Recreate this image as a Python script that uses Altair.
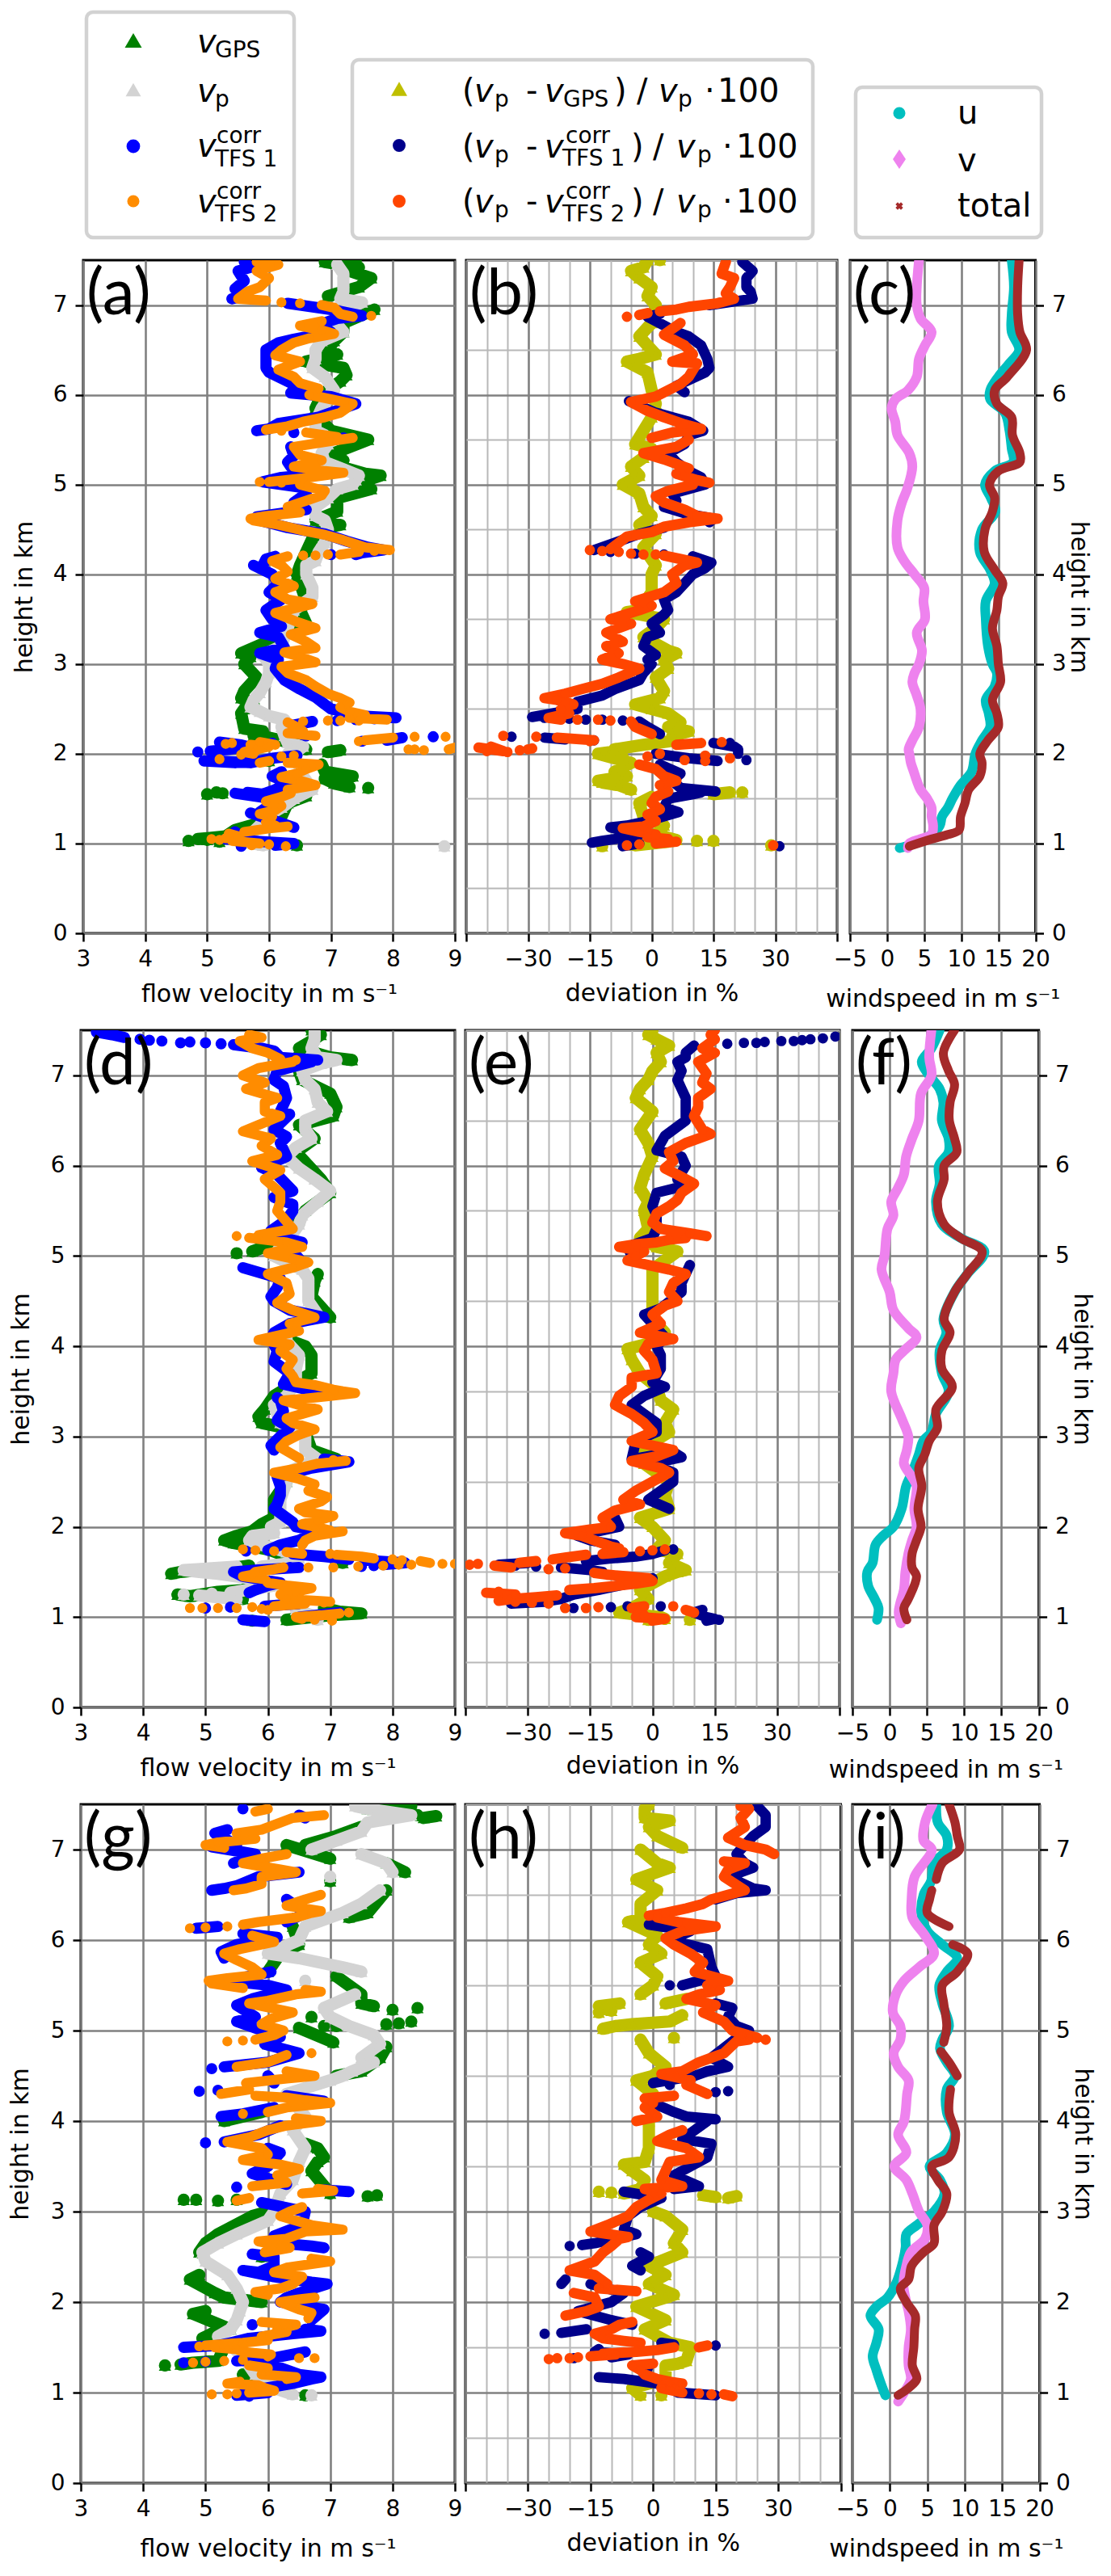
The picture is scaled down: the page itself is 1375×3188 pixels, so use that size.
import altair as alt
import pandas as pd

# ---------- panel (a) : (height km, m/s) ----------
A_GPS=[(.98,6.45),(1.02,5.2),(1.03,4.7),(1.04,5.0),(1.05,4.85),(1.08,5.3),(1.15,5.45),(1.2,5.7),(1.3,6.2),(1.45,6.3),(1.53,6.6),(1.55,5.0),(1.56,5.25),(1.57,5.15),(1.62,7.6),(1.63,7.3),(1.67,7.05),(1.72,6.9),(1.75,7.35),(1.8,6.9),(1.88,6.85),(1.92,6.0),(2.02,6.95),(2.04,7.15),(2.05,6.6),(2.1,6.5),(2.18,6.0),(2.2,5.75),(2.25,5.9),(2.28,5.6),(2.45,5.55),(2.5,5.6),(2.55,5.75),(2.62,5.55),(2.7,5.6),(2.85,5.8),(3.0,5.6),(3.08,5.7),(3.12,5.55),(3.3,6.15),(3.35,6.35),(3.45,6.6),(3.6,6.5),(3.7,6.6),(4.0,6.45),(4.1,6.5),(4.4,6.7),(4.52,6.9),(4.55,7.15),(4.6,6.75),(4.7,7.1),(4.85,7.1),(4.95,7.65),(5.02,7.45),(5.1,7.8),(5.12,7.55),(5.2,7.15),(5.27,7.2),(5.35,7.05),(5.5,7.6),(5.55,7.3),(5.6,7.0),(5.7,6.85),(5.85,6.75),(6.0,6.85),(6.15,7.15),(6.22,7.25),(6.3,7.2),(6.37,6.6),(6.45,7.1),(6.5,6.95),(6.6,7.05),(6.7,7.2),(6.8,7.2),(6.95,7.7),(7.1,6.95),(7.2,7.45),(7.3,7.65),(7.38,7.3),(7.42,7.45),(7.48,6.9),(7.5,7.4)]
A_P=[(.97,8.83),(.98,5.9),(1.03,5.5),(1.1,5.7),(1.2,5.85),(1.3,5.95),(1.4,6.2),(1.5,6.4),(1.6,6.7),(1.65,6.65),(1.75,6.55),(1.85,6.5),(1.95,6.4),(2.0,6.3),(2.03,6.45),(2.08,6.55),(2.12,6.3),(2.2,6.25),(2.3,6.2),(2.38,6.25),(2.42,6.0),(2.47,5.85),(2.52,5.7),(2.6,5.75),(2.68,5.85),(2.8,5.95),(2.9,6.0),(3.0,6.0),(3.1,5.9),(3.2,6.2),(3.4,6.3),(3.6,6.4),(3.75,6.7),(3.85,6.7),(4.0,6.6),(4.1,6.6),(4.15,6.75),(4.25,6.8),(4.35,6.9),(4.5,6.95),(4.6,6.9),(4.65,6.75),(4.75,6.75),(4.85,6.95),(4.95,7.1),(5.0,7.35),(5.05,7.4),(5.1,7.45),(5.17,7.2),(5.25,6.9),(5.35,6.85),(5.45,6.95),(5.55,6.9),(5.6,6.75),(5.7,6.75),(5.85,6.85),(5.95,6.95),(6.05,7.05),(6.1,7.0),(6.2,6.9),(6.3,6.7),(6.4,6.75),(6.5,6.75),(6.6,6.85),(6.7,7.2),(6.78,7.1),(6.9,7.1),(7.03,7.5),(7.07,7.15),(7.15,7.2),(7.25,7.2),(7.35,7.2),(7.45,7.1)]
A_T1=[(.97,5.55),(.98,6.1),(1.0,6.4),(1.02,5.9),(1.05,5.3),(1.1,5.5),(1.13,5.45),(1.18,6.4),(1.25,6.1),(1.34,5.7),(1.35,5.85),(1.42,6.0),(1.5,6.05),(1.56,5.45),(1.57,5.65),(1.55,5.9),(1.6,6.1),(1.68,6.3),(1.75,6.05),(1.8,6.2),(1.9,5.45),(1.92,4.95),(1.92,5.15),(1.9,5.7),(1.95,6.05),(1.98,6.45),(2.02,4.85),(2.03,5.05),(2.05,5.35),(2.08,5.65),(2.1,5.55),(2.13,5.2),(2.12,6.05),(2.14,7.5),(2.15,7.9),(2.18,8.15),(2.19,8.65),(2.2,6.6),(2.25,6.4),(2.32,6.4),(2.36,6.7),(2.37,7.1),(2.38,7.4),(2.39,7.7),(2.4,8.05),(2.42,7.5),(2.5,7.0),(2.55,6.9),(2.63,6.75),(2.72,6.5),(2.82,6.25),(2.95,6.1),(3.05,6.15),(3.12,5.85),(3.18,6.25),(3.3,6.15),(3.35,5.85),(3.42,6.2),(3.5,6.05),(3.6,5.95),(3.72,6.2),(3.8,6.0),(3.9,6.15),(4.0,6.05),(4.1,5.75),(4.1,5.9),(4.17,5.95),(4.2,6.1),(4.22,7.0),(4.22,7.4),(4.24,7.5),(4.27,7.85),(4.3,7.6),(4.37,7.25),(4.45,6.9),(4.52,6.3),(4.6,5.85),(4.64,5.8),(4.67,6.1),(4.72,6.6),(4.8,6.4),(4.9,6.6),(4.97,6.5),(5.03,5.9),(5.08,6.2),(5.12,6.8),(5.2,6.35),(5.25,6.3),(5.32,6.4),(5.42,6.35),(5.52,7.2),(5.58,6.4),(5.6,5.8),(5.62,6.0),(5.68,6.15),(5.75,6.8),(5.85,7.2),(5.9,7.4),(5.98,7.0),(6.02,6.35),(6.1,6.45),(6.15,6.3),(6.25,6.0),(6.3,5.95),(6.45,5.95),(6.5,5.95),(6.58,6.15),(6.62,6.4),(6.7,7.0),(6.78,6.8),(6.85,7.1),(6.88,7.5),(6.95,7.0),(7.02,6.3),(7.07,5.4),(7.1,5.6),(7.18,5.45),(7.27,5.6),(7.38,5.5),(7.42,5.7),(7.48,5.6)]
A_T2=[(.97,6.27),(.98,5.72),(.99,6.0),(1.0,5.85),(1.03,5.4),(1.04,5.2),(1.05,5.07),(1.06,5.3),(1.08,5.5),(1.11,5.35),(1.13,5.6),(1.15,5.8),(1.17,6.0),(1.19,6.3),(1.2,6.1),(1.24,5.95),(1.3,6.05),(1.33,5.85),(1.37,6.1),(1.42,6.2),(1.47,5.95),(1.52,6.2),(1.56,6.35),(1.6,6.3),(1.65,6.75),(1.7,6.5),(1.74,6.2),(1.78,6.45),(1.83,6.6),(1.88,6.8),(1.9,6.3),(1.9,5.85),(1.92,6.0),(1.94,5.2),(1.97,6.2),(1.98,6.4),(1.99,5.55),(2.0,5.75),(2.02,5.6),(2.08,6.0),(2.1,5.7),(2.11,5.3),(2.12,5.4),(2.13,5.85),(2.1,6.1),(2.05,8.35),(2.04,8.5),(2.05,8.25),(2.05,8.9),(2.07,9.0),(2.14,7.45),(2.15,7.55),(2.18,8.0),(2.19,8.35),(2.19,8.85),(2.2,6.75),(2.23,6.3),(2.25,6.55),(2.28,6.5),(2.35,6.3),(2.36,6.55),(2.37,6.95),(2.37,7.15),(2.37,7.45),(2.38,7.9),(2.4,7.3),(2.43,7.55),(2.47,7.3),(2.52,7.15),(2.57,7.3),(2.62,7.15),(2.67,6.95),(2.75,6.75),(2.82,6.6),(2.9,6.3),(2.97,6.2),(3.02,6.75),(3.08,6.5),(3.13,6.25),(3.18,6.75),(3.25,6.6),(3.33,6.35),(3.4,6.75),(3.47,6.45),(3.57,6.1),(3.67,6.7),(3.72,6.3),(3.8,6.1),(3.87,6.4),(3.95,6.1),(4.03,6.3),(4.1,6.2),(4.15,6.05),(4.2,6.3),(4.21,6.55),(4.21,6.75),(4.22,6.95),(4.22,7.15),(4.25,7.45),(4.26,7.7),(4.27,7.95),(4.3,7.55),(4.38,7.2),(4.44,6.9),(4.48,6.6),(4.52,6.35),(4.56,6.1),(4.6,5.75),(4.62,5.7),(4.65,5.95),(4.69,6.5),(4.75,6.3),(4.82,6.6),(4.88,6.85),(4.93,6.9),(5.0,6.5),(5.02,6.2),(5.03,5.85),(5.03,6.0),(5.07,6.55),(5.13,7.2),(5.15,6.9),(5.2,6.4),(5.27,6.85),(5.33,6.5),(5.42,6.4),(5.48,6.95),(5.52,7.35),(5.53,7.1),(5.58,6.6),(5.6,6.2),(5.61,5.95),(5.65,6.3),(5.7,6.55),(5.75,6.9),(5.8,7.15),(5.85,7.25),(5.9,7.35),(5.95,7.0),(6.0,6.65),(6.07,6.8),(6.13,6.5),(6.2,6.4),(6.28,6.15),(6.37,6.5),(6.44,6.1),(6.5,6.2),(6.58,6.4),(6.63,6.65),(6.68,7.05),(6.72,6.85),(6.77,6.5),(6.82,6.85),(6.88,7.65),(6.87,7.35),(6.9,7.15),(6.97,7.05),(7.0,6.85),(7.02,6.5),(7.03,6.2),(7.05,5.95),(7.07,5.5),(7.15,5.65),(7.2,5.85),(7.3,6.0),(7.38,5.8),(7.45,6.15),(7.48,5.8)]

# ---------- panel (b) : (height km, %) ----------
B_GPS=[(.98,29),(.97,-12),(.98,-4),(1.02,4),(1.03,15),(1.03,11),(1.04,6),(1.1,1),(1.2,3),(1.3,-2),(1.45,-3),(1.52,0),(1.55,15),(1.57,19),(1.57,22),(1.6,-5),(1.65,-8),(1.68,-12),(1.7,-13),(1.75,-6),(1.8,-9),(1.9,-5),(2.0,-13),(2.02,-10),(2.03,-7),(2.05,-9),(2.1,-2),(2.15,6),(2.2,5),(2.25,9),(2.3,4),(2.35,7),(2.45,4),(2.5,0),(2.55,-4),(2.62,2),(2.7,3),(2.85,1),(2.95,4),(3.05,3),(3.12,6),(3.15,4),(3.3,-2),(3.4,1),(3.5,3),(3.58,-6),(3.6,-3),(3.8,0),(4.0,0),(4.1,1),(4.3,-2),(4.45,1),(4.55,-3),(4.65,0),(4.75,-2),(4.9,-3),(5.0,-7),(5.05,-5),(5.1,-3),(5.2,-5),(5.3,-2),(5.4,0),(5.45,-4),(5.6,-2),(5.75,0),(5.9,1),(6.05,0),(6.25,-1),(6.37,-6),(6.4,-3),(6.45,1),(6.55,-1),(6.65,-3),(6.8,0),(7.0,1),(7.1,-1),(7.2,0),(7.3,-3),(7.38,-5),(7.42,-2),(7.5,-1),(7.5,2)]
B_T1=[(.97,31),(.97,-7),(1.0,-3),(1.01,-14.5),(1.03,-12),(1.05,-9),(1.1,-3),(1.18,-10),(1.2,-6),(1.25,-1),(1.35,6.5),(1.4,3),(1.5,4),(1.55,10),(1.57,12),(1.58,15.5),(1.62,7),(1.7,5),(1.78,7),(1.88,2),(1.93,23),(1.92,16),(1.95,9),(2.0,1),(2.0,21),(2.05,21),(2.08,20),(2.12,15),(2.12,19),(2.15,-14),(2.16,-21),(2.18,-26),(2.19,-34),(2.22,2),(2.3,-1),(2.36,-3),(2.37,-7),(2.38,-12),(2.38,-16),(2.39,-20),(2.4,-26),(2.41,-29),(2.45,-24),(2.5,-18),(2.58,-18),(2.65,-12),(2.72,-9),(2.82,-3),(2.9,-2),(3.0,0),(3.05,-1),(3.1,1),(3.2,-2),(3.3,-1),(3.35,2),(3.45,0),(3.55,3),(3.6,4),(3.72,3),(3.8,6),(3.9,8),(4.0,10),(4.07,13),(4.13,14.5),(4.2,10),(4.22,3),(4.23,-4),(4.25,-10),(4.27,-14),(4.35,-9),(4.45,-3),(4.52,3),(4.58,14),(4.62,15),(4.68,8),(4.75,3),(4.82,6),(4.9,5),(5.0,13),(5.08,12),(5.15,9),(5.25,6),(5.35,4),(5.45,8),(5.55,9),(5.6,12.5),(5.7,9),(5.8,1),(5.93,-5.5),(6.03,8),(6.1,6),(6.25,13),(6.3,14),(6.4,13.5),(6.55,12),(6.65,9),(6.7,6),(6.87,-1),(6.9,2),(7.0,14),(7.07,24.5),(7.15,24),(7.2,23),(7.3,23),(7.38,24.5),(7.48,22)]
B_T2=[(.98,29.5),(.98,-6),(.99,-3),(1.0,1),(1.02,6),(1.03,3),(1.05,4),(1.07,-1),(1.1,1),(1.13,-3),(1.17,-7),(1.19,-2),(1.25,1),(1.32,-1),(1.38,2),(1.45,0),(1.52,1),(1.58,4),(1.65,2),(1.7,6),(1.75,3),(1.83,1),(1.88,-3),(1.92,13),(1.93,8),(1.95,19),(1.97,-1),(1.98,13),(2.0,2),(2.02,-35),(2.03,-40),(2.04,-32),(2.05,-30),(2.06,-29),(2.07,-42),(2.03,-36),(2.08,-39),(2.1,6),(2.12,12),(2.13,17),(2.14,-15),(2.15,-14),(2.18,-23),(2.19,-28),(2.2,-36),(2.22,0),(2.26,-2),(2.3,-4),(2.36,-5),(2.37,-10),(2.38,-13),(2.38,-18),(2.38,-22),(2.4,-25),(2.45,-20),(2.5,-22),(2.55,-19),(2.6,-23),(2.62,-26),(2.67,-21),(2.72,-17),(2.78,-12),(2.85,-8),(2.95,-3),(3.0,-7),(3.05,-12),(3.12,-8),(3.2,-11),(3.25,-7),(3.35,-11),(3.45,-5),(3.5,-10),(3.6,-3),(3.65,0),(3.7,-4),(3.8,3),(3.9,6),(4.0,5),(4.1,8),(4.13,11),(4.17,7),(4.21,3),(4.22,1),(4.22,-2),(4.23,-5),(4.25,-8),(4.26,-12),(4.27,-15),(4.28,-10),(4.35,-8),(4.42,-6),(4.47,0),(4.53,3),(4.58,9),(4.62,16),(4.65,11),(4.72,8),(4.8,3),(4.87,1),(4.93,4),(5.0,10),(5.02,14),(5.05,11),(5.12,6),(5.18,9),(5.28,3),(5.35,-2),(5.42,6),(5.5,9),(5.52,0),(5.58,5),(5.62,12),(5.67,8),(5.75,3),(5.82,-1),(5.92,-5),(5.98,1),(6.05,4),(6.12,7),(6.2,9),(6.35,11),(6.37,5),(6.45,10),(6.55,8),(6.67,3),(6.8,7),(6.87,-6),(6.89,-3),(6.91,-1),(6.93,2),(6.95,6),(6.98,9),(7.02,16),(7.07,20),(7.13,18),(7.2,19),(7.3,20),(7.35,17),(7.48,18)]

# ---------- panel (c) : (height km, m/s) ----------
C_U=[(.95,1.7),(1.0,3.7),(1.1,6),(1.2,7.1),(1.3,7.4),(1.4,8.2),(1.5,8.8),(1.65,9.9),(1.8,11.4),(2.0,11.9),(2.15,12.8),(2.3,13.9),(2.45,13.7),(2.6,13.3),(2.75,14.5),(2.9,14.8),(3.0,14.2),(3.2,13.6),(3.5,13.3),(3.7,13.3),(3.9,14.5),(4.05,13.9),(4.25,12.5),(4.5,12.8),(4.7,14.6),(4.85,14),(5.0,13.2),(5.15,14.5),(5.25,17),(5.4,16.8),(5.6,16.5),(5.8,15.9),(5.95,13.9),(6.05,13.9),(6.2,15),(6.35,16.5),(6.5,17.8),(6.7,16.8),(6.9,16.8),(7.2,17.1),(7.5,16.8)]
C_V=[(.95,2.8),(1.0,3),(1.05,4.5),(1.1,6),(1.2,6.2),(1.3,6),(1.4,6),(1.5,5.4),(1.6,4.5),(1.7,4),(1.8,3.6),(1.9,3.2),(2.0,3),(2.05,2.9),(2.15,3.4),(2.3,4.3),(2.5,4.5),(2.65,4),(2.8,3.4),(2.9,3.7),(3.0,4.3),(3.15,4.7),(3.35,4),(3.5,5.1),(3.7,4.9),(3.85,5),(4.0,3.7),(4.15,2.3),(4.3,1.4),(4.6,1.4),(4.8,2),(4.95,2.7),(5.2,3.4),(5.35,3),(5.55,1.4),(5.7,1.1),(5.85,.6),(5.95,1.1),(6.05,2.8),(6.2,4),(6.4,4.3),(6.55,5.1),(6.7,6),(6.85,4.5),(7.0,4),(7.2,4),(7.5,4.3)]
C_TOT=[(.97,3),(1.05,6),(1.1,8.2),(1.15,9.7),(1.3,9.9),(1.45,10.5),(1.6,11),(1.75,12.5),(1.9,12.8),(2.0,12.5),(2.15,13.6),(2.3,15),(2.45,14.8),(2.6,14.2),(2.8,15.3),(3.0,15),(3.2,14.8),(3.4,14.2),(3.6,14.8),(3.75,15),(3.9,15.6),(4.05,14.5),(4.25,13.1),(4.5,13.2),(4.7,14.2),(4.85,14.5),(5.0,13.8),(5.15,15),(5.25,17.9),(5.35,17.9),(5.55,16.9),(5.75,16.8),(5.9,14.8),(6.05,14.5),(6.2,16.2),(6.5,18.8),(6.7,17.9),(6.9,17.6),(7.2,17.6),(7.5,17.8)]

# ---------- panel (d) ----------
D_GPS=[(.96,5.75),(.97,6.3),(1.02,7.0),(1.04,7.5),(1.06,7.15),(1.1,6.9),(1.2,5.6),(1.25,4.55),(1.23,4.75),(1.28,5.2),(1.3,5.6),(1.4,5.9),(1.48,4.45),(1.5,4.6),(1.52,4.9),(1.54,5.4),(1.57,5.7),(1.6,7.2),(1.65,6.4),(1.75,6.0),(1.82,5.45),(1.85,5.3),(1.9,5.5),(1.95,5.75),(2.03,5.9),(2.1,6.1),(2.3,6.1),(2.5,6.3),(2.75,7.1),(2.85,6.7),(3.05,6.6),(3.15,5.9),(3.22,5.85),(3.3,5.95),(3.45,6.1),(3.7,6.7),(3.9,6.7),(4.0,6.6),(4.1,6.2),(4.32,7.0),(4.55,6.7),(4.72,6.75),(4.8,6.8),(5.03,5.5),(5.05,5.75),(5.1,5.95),(5.4,6.5),(5.5,6.6),(5.7,7.0),(5.85,6.85),(6.0,6.65),(6.15,6.45),(6.3,6.75),(6.45,6.5),(6.55,7.05),(6.65,7.1),(6.8,7.0),(6.95,6.55),(7.05,6.5),(7.1,6.5),(7.17,7.35),(7.2,7.0),(7.3,6.5),(7.38,6.7),(7.45,6.85),(7.5,6.7)]
D_P=[(.97,6.8),(1.02,6.7),(1.08,6.45),(1.12,6.45),(1.2,5.5),(1.22,5.2),(1.24,4.9),(1.25,4.65),(1.26,5.1),(1.27,5.4),(1.35,6.1),(1.4,6.0),(1.45,5.5),(1.48,5.2),(1.5,4.9),(1.52,4.65),(1.54,5.1),(1.56,5.5),(1.56,5.9),(1.6,6.4),(1.65,6.5),(1.72,6.3),(1.8,5.9),(1.85,5.7),(1.9,5.75),(1.93,6.1),(2.0,6.05),(2.05,6.2),(2.15,6.2),(2.3,6.2),(2.5,6.3),(2.6,6.3),(2.75,6.8),(2.85,6.6),(3.0,6.6),(3.15,6.2),(3.35,6.1),(3.45,6.3),(3.6,6.45),(3.75,6.45),(3.9,6.5),(4.05,6.3),(4.2,6.3),(4.35,6.8),(4.5,6.65),(4.6,6.65),(4.75,6.65),(4.85,6.55),(5.0,6.1),(5.1,6.2),(5.2,6.35),(5.35,6.5),(5.45,6.55),(5.6,6.8),(5.72,7.0),(5.85,6.75),(5.97,6.5),(6.1,6.3),(6.2,6.45),(6.3,6.7),(6.4,6.6),(6.5,6.6),(6.6,6.95),(6.7,6.8),(6.85,6.75),(6.95,6.6),(7.05,6.55),(7.13,6.85),(7.17,7.1),(7.2,6.8),(7.3,6.7),(7.4,6.75),(7.48,6.75)]
D_T1=[(.96,5.8),(.95,5.95),(.97,5.6),(1.0,6.5),(1.05,7.15),(1.1,5.0),(1.11,5.4),(1.12,5.95),(1.15,6.5),(1.2,6.5),(1.27,5.7),(1.3,5.8),(1.35,6.0),(1.38,6.2),(1.45,5.6),(1.5,5.45),(1.52,5.8),(1.55,6.5),(1.55,6.35),(1.56,7.5),(1.57,7.7),(1.58,7.85),(1.6,8.2),(1.63,7.55),(1.64,7.3),(1.67,6.9),(1.7,6.4),(1.73,5.65),(1.74,6.0),(1.8,6.2),(1.85,6.5),(1.9,6.65),(1.95,6.85),(2.0,6.45),(2.05,6.4),(2.2,6.1),(2.25,6.15),(2.35,6.2),(2.45,6.2),(2.55,6.15),(2.65,6.7),(2.72,7.3),(2.75,6.9),(2.85,6.1),(2.9,6.05),(3.0,6.2),(3.1,6.35),(3.18,6.15),(3.28,6.25),(3.4,6.2),(3.43,6.15),(3.48,6.9),(3.58,6.25),(3.7,6.35),(3.83,6.1),(3.95,6.15),(4.08,6.05),(4.15,6.1),(4.25,6.35),(4.32,6.9),(4.4,6.35),(4.5,6.1),(4.55,6.05),(4.65,6.15),(4.75,6.2),(4.87,5.6),(4.92,6.55),(4.97,6.5),(5.05,6.4),(5.15,6.55),(5.2,6.25),(5.28,6.05),(5.4,6.3),(5.5,6.4),(5.57,6.4),(5.65,6.1),(5.72,6.4),(5.9,6.15),(5.98,5.9),(6.1,6.3),(6.25,6.2),(6.32,6.3),(6.4,6.1),(6.57,6.35),(6.6,6.2),(6.75,6.3),(6.88,6.25),(6.95,6.1),(7.05,6.15),(7.15,6.7),(7.17,6.8),(7.2,6.2),(7.27,6.1),(7.3,5.9),(7.34,5.45),(7.35,5.25),(7.36,5.0),(7.37,4.75),(7.36,4.6),(7.38,4.3),(7.39,4.1),(7.4,3.95),(7.42,3.7),(7.45,3.5),(7.48,3.25)]
D_T2=[(.96,7.03),(.97,6.75),(.98,6.55),(1.0,6.45),(1.02,6.85),(1.04,7.15),(1.05,7.3),(1.08,6.0),(1.09,5.9),(1.1,4.75),(1.1,4.95),(1.1,5.2),(1.1,5.5),(1.11,5.75),(1.12,6.1),(1.15,6.6),(1.16,6.9),(1.17,7.0),(1.2,6.3),(1.25,6.2),(1.28,6.45),(1.32,6.7),(1.35,6.3),(1.38,6.0),(1.42,5.95),(1.45,5.6),(1.47,5.75),(1.5,5.8),(1.53,6.1),(1.55,6.25),(1.55,6.65),(1.55,7.05),(1.56,7.45),(1.57,7.85),(1.58,8.1),(1.58,8.3),(1.59,8.8),(1.59,9.0),(1.6,8.6),(1.62,8.45),(1.63,8.15),(1.64,8.0),(1.65,7.7),(1.67,7.5),(1.69,7.1),(1.7,7.0),(1.7,6.55),(1.72,6.3),(1.73,6.1),(1.74,5.8),(1.75,5.6),(1.8,6.55),(1.85,6.6),(1.9,6.75),(1.95,7.2),(1.96,7.0),(2.0,6.75),(2.03,6.55),(2.07,6.8),(2.12,7.05),(2.16,6.6),(2.2,6.5),(2.28,6.85),(2.33,6.95),(2.4,6.65),(2.47,6.75),(2.53,6.5),(2.6,6.1),(2.65,6.5),(2.7,6.8),(2.73,7.25),(2.74,7.05),(2.76,6.5),(2.8,6.4),(2.88,6.2),(2.95,6.3),(3.02,6.5),(3.08,6.75),(3.15,6.4),(3.2,6.3),(3.3,6.8),(3.35,6.5),(3.4,6.25),(3.42,6.6),(3.45,7.0),(3.48,7.4),(3.5,7.2),(3.52,7.05),(3.57,6.75),(3.6,6.45),(3.67,6.4),(3.75,6.3),(3.85,6.4),(3.95,6.2),(4.02,6.35),(4.07,5.85),(4.1,6.05),(4.17,6.5),(4.25,6.35),(4.32,6.75),(4.4,6.4),(4.48,6.15),(4.58,6.35),(4.7,6.3),(4.8,6.0),(4.87,6.4),(4.93,6.65),(4.97,6.4),(5.03,6.0),(5.1,6.55),(5.15,6.3),(5.2,5.7),(5.22,5.5),(5.23,5.85),(5.3,6.4),(5.38,6.3),(5.5,6.15),(5.6,6.2),(5.7,6.2),(5.85,5.95),(5.95,6.2),(6.05,5.75),(6.12,6.15),(6.22,5.9),(6.3,6.05),(6.38,5.6),(6.45,5.85),(6.55,6.2),(6.6,5.95),(6.7,5.95),(6.75,6.15),(6.85,5.65),(6.92,5.95),(7.0,5.6),(7.08,5.85),(7.15,6.4),(7.17,6.45),(7.18,6.2),(7.25,6.0),(7.3,5.75),(7.38,5.55),(7.42,5.9),(7.45,5.7)]

# ---------- panel (e) ----------
E_GPS=[(.97,-1),(.97,9),(.98,3),(1.0,2),(1.05,-8),(1.1,-5),(1.2,-1),(1.3,-3),(1.45,3),(1.5,6),(1.52,8),(1.6,4),(1.7,6),(1.75,1),(1.85,3),(2.0,0),(2.1,-3),(2.2,4),(2.35,3),(2.5,4),(2.7,-2),(2.85,-3),(3.05,4),(3.15,3),(3.3,5),(3.4,2),(3.55,1),(3.7,-3),(3.85,-5),(3.97,-6),(4.05,1),(4.15,3),(4.3,0),(4.55,0),(4.75,0),(4.85,0),(5.05,6),(5.1,1),(5.2,-3),(5.3,-1),(5.5,-2),(5.6,-1),(5.75,-3),(5.9,-2),(6.1,0),(6.25,-1),(6.4,-3),(6.6,0),(6.75,-4),(6.85,-3),(6.95,-1),(7.05,0),(7.15,2),(7.25,1),(7.33,4),(7.4,1),(7.45,-1),(7.5,0)]
E_T1=[(.97,16),(.96,13),(.98,15),(1.0,13),(1.05,10),(1.08,12),(1.1,-19),(1.11,-10),(1.12,2),(1.12,-6),(1.15,-34),(1.17,-26),(1.2,-22),(1.25,-19),(1.3,-13),(1.35,-8),(1.43,0),(1.5,-12),(1.52,-15),(1.55,-22),(1.56,-28),(1.57,-33),(1.58,-37),(1.6,-30),(1.62,-16),(1.65,-10),(1.67,-4),(1.7,0),(1.74,3),(1.75,5),(1.8,-9),(1.85,-15),(1.9,-18),(2.0,-8),(2.1,-9),(2.2,4),(2.3,-1),(2.4,2),(2.5,5),(2.6,5),(2.7,0),(2.77,7),(2.83,5),(2.75,-5),(2.95,-4),(3.05,1),(3.15,1),(3.25,-2),(3.35,-5),(3.45,-2),(3.55,3),(3.6,0),(3.75,2),(3.9,2),(4.0,1),(4.1,3),(4.2,1),(4.35,-2),(4.42,2),(4.6,7),(4.7,7),(4.8,8),(4.9,9),(5.0,-5),(5.1,-6),(5.2,0),(5.3,1),(5.45,1),(5.55,0),(5.7,1),(5.78,8),(5.85,6),(6.0,8),(6.1,7),(6.17,1),(6.25,2),(6.33,3),(6.5,8),(6.6,8),(6.75,8),(6.85,7),(6.95,6),(7.05,7),(7.15,6),(7.2,8),(7.25,8),(7.33,10),(7.35,18),(7.36,22),(7.36,25),(7.37,27),(7.38,31),(7.38,34),(7.39,36),(7.4,38),(7.41,41),(7.43,44)]
E_T2=[(.96,0),(.98,3),(1.0,-4),(1.02,-2),(1.05,10),(1.08,8),(1.1,-21),(1.11,-13),(1.1,-16),(1.1,-5),(1.12,-2),(1.12,5),(1.15,-25),(1.16,-29),(1.17,-33),(1.18,-37),(1.2,-34),(1.22,-28),(1.24,-23),(1.25,-33),(1.27,-40),(1.28,-37),(1.3,-20),(1.32,-14),(1.35,-8),(1.37,-4),(1.4,0),(1.43,-1),(1.45,-6),(1.47,-11),(1.49,-14),(1.53,-25),(1.54,-21),(1.55,-34),(1.57,-38),(1.58,-44),(1.59,-42),(1.6,-32),(1.62,-28),(1.64,-24),(1.66,-21),(1.69,-16),(1.7,-12),(1.72,-7),(1.73,-3),(1.74,0),(1.75,3),(1.76,-8),(1.78,-10),(1.85,-14),(1.9,-17),(1.93,-21),(1.97,-15),(2.0,-10),(2.1,-12),(2.18,-9),(2.25,-3),(2.3,-7),(2.4,-4),(2.5,0),(2.6,4),(2.65,2),(2.73,-5),(2.78,1),(2.85,5),(2.95,-5),(3.05,0),(3.15,-2),(3.25,-5),(3.35,-9),(3.45,-8),(3.55,-5),(3.65,-5),(3.7,1),(3.85,0),(3.95,-2),(4.03,-1),(4.08,5),(4.15,-3),(4.25,2),(4.35,0),(4.45,3),(4.5,6),(4.6,4),(4.7,5),(4.8,8),(4.85,4),(4.95,-6),(5.0,-4),(5.05,-2),(5.1,-8),(5.13,-4),(5.15,1),(5.18,4),(5.2,8),(5.22,13),(5.25,9),(5.3,2),(5.37,0),(5.47,1),(5.55,4),(5.62,6),(5.7,7),(5.8,10),(5.9,6),(5.97,3),(6.05,5),(6.15,4),(6.25,8),(6.35,14),(6.4,12),(6.55,10),(6.65,11),(6.75,11),(6.85,14),(6.92,12),(7.02,13),(7.15,11),(7.25,15),(7.3,12),(7.4,15),(7.45,14),(7.5,15)]

# ---------- panel (f) ----------
F_U=[(.97,-1.7),(1.1,-1.5),(1.2,-2),(1.35,-2.9),(1.5,-3),(1.6,-2.3),(1.8,-1.9),(1.9,-.9),(2.0,.5),(2.2,1.6),(2.45,2.2),(2.6,3),(2.8,3.9),(2.95,4.5),(3.05,5.6),(3.25,6.2),(3.5,7.9),(3.7,7),(3.95,6.7),(4.15,7.6),(4.3,7.2),(4.6,8.7),(4.8,10.4),(5.05,12.7),(5.2,9.5),(5.35,7),(5.6,6.2),(5.8,6.7),(6.0,6.6),(6.15,7.9),(6.3,7.9),(6.5,7),(6.7,7.2),(6.85,6.7),(7.0,5.3),(7.15,4.3),(7.3,5.6),(7.5,6.7)]
F_V=[(.93,1.5),(1.05,1.2),(1.15,1.4),(1.3,1.9),(1.5,2.1),(1.7,2.5),(1.85,3),(2.0,3.6),(2.2,3.3),(2.45,3.6),(2.55,3),(2.7,1.9),(2.85,2.3),(3.0,2.5),(3.2,1.6),(3.5,.2),(3.7,.5),(3.85,.8),(3.95,1.9),(4.1,3.6),(4.2,2.5),(4.4,.5),(4.6,0),(4.85,-1.1),(5.0,-.7),(5.3,-.3),(5.45,.5),(5.6,.2),(5.75,1.1),(5.9,1.9),(6.1,2.2),(6.3,3),(6.5,3.9),(6.8,4.2),(7.0,5.6),(7.2,5.3),(7.5,5.6)]
F_TOT=[(.97,2.3),(1.1,1.9),(1.2,2.5),(1.45,3.6),(1.55,3),(1.7,3),(1.85,3.6),(2.0,4.2),(2.2,3.8),(2.45,4.3),(2.65,3.9),(2.8,4.7),(2.95,5.3),(3.1,6.4),(3.3,6.2),(3.55,8.4),(3.75,7),(3.95,7),(4.15,8.1),(4.3,7.3),(4.6,8.7),(4.8,10.4),(5.05,12.4),(5.2,9.5),(5.35,7.3),(5.6,6.4),(5.85,7.3),(6.0,7.3),(6.15,9),(6.3,8.7),(6.5,8),(6.7,8.1),(6.9,8.7),(7.05,7.9),(7.25,7.2),(7.5,8.7)]

# ---------- panel (g) ----------
G_GPS=[(.97,6.6),(1.0,5.8),(1.2,5.6),(1.3,4.35),(1.31,4.6),(1.33,4.8),(1.35,5.2),(1.5,5.3),(1.6,4.95),(1.65,5.1),(1.7,5.4),(1.87,4.8),(1.9,5.0),(2.0,5.9),(2.05,5.3),(2.1,5.15),(2.25,4.75),(2.3,4.9),(2.5,5.9),(2.55,4.9),(2.65,5.0),(2.7,5.1),(2.75,5.2),(2.95,5.75),(3.0,6.0),(3.13,4.65),(3.13,4.85),(3.12,5.2),(3.13,5.5),(3.17,7.6),(3.18,7.75),(3.2,7.0),(3.45,6.7),(3.55,6.8),(3.6,6.9),(3.7,6.8),(3.75,6.6),(4.0,5.3),(4.1,5.9),(4.5,7.1),(4.55,7.5),(4.7,7.8),(4.82,7.9),(4.85,6.0),(4.87,7.05),(5.03,6.5),(5.05,6.9),(5.05,7.1),(5.07,7.9),(5.08,8.1),(5.1,8.3),(5.15,6.7),(5.23,8.0),(5.25,8.4),(5.27,7.7),(5.3,7.5),(5.4,7.5),(5.6,7.1),(5.65,6.0),(5.85,6.2),(5.95,6.5),(6.15,6.4),(6.25,7.3),(6.3,7.6),(6.55,7.9),(6.65,7.0),(6.75,8.2),(6.85,7.9),(6.9,7.0),(7.05,6.3),(7.05,6.8),(7.05,6.6),(7.15,7.1),(7.25,7.5),(7.35,8.5),(7.37,8.7),(7.38,8.4),(7.45,7.6),(7.48,8.3)]
G_P=[(.97,6.7),(.98,6.4),(1.05,6.1),(1.2,5.8),(1.4,5.6),(1.55,5.35),(1.62,5.2),(1.7,5.4),(1.8,5.5),(1.9,5.55),(2.0,5.6),(2.15,5.5),(2.3,5.35),(2.45,5.0),(2.55,4.95),(2.65,5.2),(2.75,5.5),(2.9,6.0),(3.0,6.1),(3.2,6.2),(3.35,6.4),(3.55,6.5),(3.7,6.6),(3.9,6.4),(4.05,6.6),(4.3,6.3),(4.45,7.0),(4.5,7.2),(4.55,7.35),(4.65,7.7),(4.7,7.5),(4.85,7.8),(4.95,7.7),(5.05,7.3),(5.15,7.0),(5.25,6.9),(5.4,7.4),(5.55,6.6),(5.65,7.5),(5.7,7.2),(5.8,6.5),(5.85,6.0),(6.0,6.5),(6.15,6.6),(6.3,7.2),(6.4,7.5),(6.55,7.8),(6.7,7.0),(6.75,8.0),(6.85,7.9),(6.95,7.5),(7.0,6.7),(7.1,7.1),(7.2,7.5),(7.3,7.6),(7.38,8.3),(7.45,7.6),(7.48,7.4)]
G_T1=[(.96,5.7),(.97,5.5),(1.0,6.0),(1.03,5.8),(1.1,6.4),(1.15,6.7),(1.17,6.85),(1.2,6.5),(1.3,6.1),(1.33,4.65),(1.34,5.0),(1.35,5.5),(1.37,6.0),(1.45,6.6),(1.5,4.65),(1.52,5.2),(1.55,5.4),(1.6,5.7),(1.65,6.4),(1.68,6.85),(1.7,6.6),(1.75,5.75),(1.8,6.7),(1.92,6.9),(2.0,6.2),(2.05,6.3),(2.1,6.5),(2.2,6.95),(2.22,6.7),(2.28,6.1),(2.35,5.6),(2.33,5.85),(2.4,6.1),(2.5,6.1),(2.53,5.75),(2.6,6.9),(2.62,6.7),(2.65,6.2),(2.73,6.1),(2.85,6.55),(3.0,6.6),(3.1,5.9),(3.22,7.3),(3.24,6.9),(3.27,5.5),(3.3,6.3),(3.42,5.75),(3.5,6.0),(3.65,6.2),(3.7,6.0),(3.76,5.0),(3.77,5.3),(3.85,5.85),(3.95,6.2),(4.05,5.25),(4.08,5.6),(4.15,6.1),(4.22,6.9),(4.28,6.3),(4.33,4.9),(4.34,5.2),(4.42,6.1),(4.5,6.0),(4.58,5.1),(4.6,5.3),(4.65,6.0),(4.75,6.5),(4.85,5.95),(4.93,6.2),(5.1,5.5),(5.15,5.8),(5.28,5.5),(5.35,5.75),(5.45,6.3),(5.5,6.0),(5.55,5.35),(5.65,6.05),(5.8,5.3),(5.87,5.25),(5.95,5.5),(6.03,6.15),(6.07,5.6),(6.13,4.85),(6.15,5.2),(6.2,6.3),(6.3,6.6),(6.4,6.4),(6.45,6.3),(6.55,5.1),(6.57,5.3),(6.6,5.5),(6.7,5.85),(6.75,6.5),(6.85,5.45),(6.95,5.8),(7.03,5.1),(7.05,5.5),(7.18,5.15),(7.22,5.35),(7.35,6.6),(7.38,6.5),(7.45,5.6)]
G_T2=[(.98,5.1),(.98,5.35),(.99,5.5),(1.0,5.7),(1.02,6.1),(1.05,5.95),(1.08,5.85),(1.1,5.35),(1.12,5.55),(1.15,6.3),(1.17,6.45),(1.2,5.9),(1.27,6.0),(1.3,5.7),(1.33,4.8),(1.34,5.0),(1.35,5.3),(1.36,5.6),(1.38,6.5),(1.38,6.75),(1.4,6.0),(1.42,6.05),(1.45,5.6),(1.48,5.5),(1.5,5.15),(1.51,4.9),(1.52,5.0),(1.55,5.6),(1.58,6.0),(1.62,5.9),(1.67,6.3),(1.7,6.15),(1.75,6.45),(1.78,5.9),(1.82,6.65),(1.88,6.7),(1.92,6.5),(2.0,6.2),(2.03,6.5),(2.05,6.75),(2.08,6.0),(2.11,5.8),(2.15,6.2),(2.2,6.4),(2.28,6.55),(2.33,6.1),(2.38,6.3),(2.45,7.0),(2.48,6.7),(2.55,5.95),(2.6,6.35),(2.67,5.85),(2.7,6.3),(2.78,6.6),(2.8,7.2),(2.85,6.7),(2.95,6.2),(3.0,6.35),(3.05,6.55),(3.12,5.5),(3.15,5.7),(3.2,6.55),(3.23,7.05),(3.25,6.8),(3.28,5.75),(3.32,6.3),(3.4,6.15),(3.47,6.5),(3.52,6.2),(3.57,5.6),(3.63,6.0),(3.7,5.9),(3.77,5.35),(3.82,5.7),(3.9,6.0),(3.95,6.3),(4.0,6.85),(4.03,6.45),(4.08,5.6),(4.1,6.0),(4.15,6.3),(4.2,7.0),(4.23,6.6),(4.26,6.3),(4.28,5.8),(4.3,5.25),(4.35,5.7),(4.42,5.65),(4.47,6.3),(4.5,6.75),(4.55,6.3),(4.6,5.5),(4.65,6.0),(4.73,6.3),(4.75,6.7),(4.88,5.35),(4.89,5.6),(4.9,5.8),(4.95,6.1),(5.0,6.25),(5.07,5.9),(5.13,6.05),(5.2,6.4),(5.3,5.7),(5.33,6.0),(5.4,6.45),(5.43,6.85),(5.45,6.6),(5.47,5.6),(5.52,5.1),(5.55,5.05),(5.58,5.35),(5.62,5.9),(5.7,5.75),(5.78,5.5),(5.85,5.3),(5.9,5.55),(5.98,6.1),(6.05,5.75),(6.13,4.75),(6.14,5.0),(6.15,5.35),(6.17,5.6),(6.2,5.85),(6.25,6.45),(6.3,6.7),(6.32,6.85),(6.38,6.3),(6.45,6.6),(6.5,6.85),(6.55,5.45),(6.57,5.65),(6.62,5.9),(6.7,5.9),(6.75,6.45),(6.78,6.2),(6.85,5.6),(6.9,5.9),(6.95,6.3),(7.02,5.3),(7.05,5.0),(7.08,5.2),(7.12,5.8),(7.18,5.5),(7.22,5.9),(7.35,6.4),(7.38,6.9),(7.42,5.8),(7.45,6.0)]

# ---------- panel (h) ----------
H_GPS=[(.97,2),(.97,-3),(1.05,-5),(1.15,3),(1.3,3),(1.32,6),(1.35,8),(1.5,9),(1.55,4),(1.7,-2),(1.8,3),(1.95,-4),(2.05,3),(2.08,5),(2.2,-1),(2.3,3),(2.4,-1),(2.55,7),(2.65,5),(2.8,7),(2.95,3),(3.0,0),(3.15,18),(3.17,20),(3.16,15),(3.18,12),(3.22,-13),(3.21,-10),(3.2,-7),(3.25,-3),(3.35,-2),(3.45,-5),(3.52,-7),(3.55,-2),(3.7,-1),(4.0,-1),(4.2,1),(4.3,0),(4.45,-4),(4.5,0),(4.6,3),(4.75,-1),(4.9,-3),(4.92,5),(5.02,-12),(5.05,-9),(5.07,-5),(5.1,4),(5.17,7),(5.2,-13),(5.22,-10),(5.27,-13),(5.3,-8),(5.3,3),(5.35,8),(5.4,-3),(5.5,0),(5.6,1),(5.75,-3),(5.85,2),(5.95,-1),(6.05,1),(6.2,-6),(6.23,-3),(6.4,-3),(6.55,1),(6.67,-4),(6.8,4),(6.85,1),(7.0,-3),(7.02,7),(7.15,1),(7.25,-1),(7.32,4),(7.35,-2),(7.45,-2),(7.5,-1)]
H_T1=[(.97,15),(1.0,6),(1.05,4),(1.1,1),(1.15,-7),(1.17,-13),(1.2,-2),(1.3,-1),(1.38,-19),(1.39,-10),(1.42,-6),(1.45,-14),(1.48,-13),(1.52,15),(1.53,5),(1.55,2),(1.65,-26),(1.66,-22),(1.68,-19),(1.7,-16),(1.75,-5),(1.8,-10),(1.9,-18),(2.0,-10),(2.1,-7),(2.2,-15),(2.2,-22),(2.25,-21),(2.35,-3),(2.4,-5),(2.5,-1),(2.55,-3),(2.62,-20),(2.63,-17),(2.65,-14),(2.75,-4),(2.8,-7),(2.95,-6),(3.05,-3),(3.15,2),(3.22,-7),(3.25,5),(3.28,11),(3.4,5),(3.6,13),(3.75,14),(3.8,7),(4.0,13),(4.02,15),(4.05,8),(4.1,5),(4.18,1),(4.32,15),(4.33,18),(4.4,4),(4.42,0),(4.5,10),(4.55,13),(4.6,18),(4.7,14),(4.95,21),(5.0,23),(5.05,20),(5.15,18),(5.25,19),(5.3,15),(5.5,4),(5.5,7),(5.6,15),(5.7,14),(5.9,13),(6.0,4),(6.1,9),(6.17,-1),(6.2,2),(6.45,15),(6.52,20),(6.55,27),(6.57,24),(6.7,18),(6.8,24),(6.85,22),(6.95,20),(7.15,24),(7.25,27),(7.38,27),(7.48,25)]
H_T2=[(.96,19),(.98,17),(.98,14),(.99,11),(1.0,7),(1.03,4),(1.05,2),(1.1,7),(1.12,4),(1.15,1),(1.2,-2),(1.25,-3),(1.3,-5),(1.32,0),(1.37,-25),(1.38,-20),(1.38,-23),(1.39,-18),(1.4,-15),(1.42,-9),(1.43,-12),(1.45,-4),(1.47,1),(1.5,5),(1.5,11),(1.52,13),(1.55,-3),(1.57,-7),(1.6,-12),(1.65,-14),(1.7,-10),(1.75,-8),(1.78,-5),(1.85,-21),(1.9,-16),(1.95,-13),(2.05,-14),(2.1,-19),(2.12,-4),(2.15,-13),(2.2,-11),(2.3,-14),(2.35,-20),(2.45,-14),(2.55,-12),(2.62,-10),(2.7,-8),(2.72,-6),(2.78,-15),(2.85,-11),(2.95,-6),(3.05,-4),(3.13,-1),(3.2,2),(3.25,-2),(3.28,7),(3.35,2),(3.45,3),(3.55,4),(3.6,11),(3.7,8),(3.78,1),(3.85,4),(3.9,7),(4.0,-4),(4.05,1),(4.15,-2),(4.2,0),(4.25,-2),(4.28,5),(4.3,13),(4.4,8),(4.45,9),(4.52,2),(4.55,7),(4.65,11),(4.7,14),(4.75,17),(4.88,20),(4.9,23),(4.9,27),(4.92,25),(5.0,19),(5.1,17),(5.2,12),(5.28,15),(5.35,8),(5.4,11),(5.45,16),(5.5,13),(5.55,18),(5.65,10),(5.75,12),(5.85,9),(5.95,5),(6.02,3),(6.1,7),(6.15,15),(6.2,6),(6.25,1),(6.27,-1),(6.3,3),(6.35,8),(6.4,12),(6.45,14),(6.5,18),(6.55,22),(6.7,17),(6.78,18),(6.85,22),(6.87,17),(6.95,29),(7.0,27),(7.05,22),(7.13,18),(7.25,22),(7.35,21),(7.45,23),(7.48,21)]

# ---------- panel (i) ----------
I_U=[(.97,-.6),(1.1,-1.2),(1.25,-1.8),(1.4,-2.3),(1.55,-1.8),(1.7,-1.5),(1.85,-2.6),(1.95,-1.8),(2.05,-.3),(2.2,.8),(2.4,1.6),(2.6,2.1),(2.75,2.2),(2.85,3.6),(3.0,5.9),(3.2,7.3),(3.35,6.7),(3.5,5.3),(3.65,7.6),(3.85,8.7),(4.1,7.6),(4.35,7.6),(4.5,8.7),(4.65,7.6),(4.8,6.7),(4.9,7),(5.05,7.9),(5.3,7),(5.5,6.6),(5.65,7.6),(5.8,9),(5.95,7),(6.1,5),(6.3,4.2),(6.5,4.5),(6.65,5.5),(6.85,5.9),(7.0,7.6),(7.15,7.6),(7.3,6.4),(7.5,6.2)]
I_V=[(.9,1.1),(1.0,1.9),(1.15,2.8),(1.3,2.5),(1.5,2.5),(1.7,2.8),(1.9,2.5),(2.0,2.2),(2.2,1.8),(2.4,2.2),(2.55,2.8),(2.7,4.7),(2.85,5),(3.0,3.9),(3.2,3),(3.35,2.2),(3.5,.6),(3.65,2.2),(3.85,1.1),(4.0,1.9),(4.3,2.3),(4.45,2.5),(4.6,1.1),(4.75,.5),(4.9,1.4),(5.05,1.4),(5.2,.4),(5.4,.8),(5.55,1.9),(5.7,3.9),(5.85,5.9),(6.05,4.7),(6.25,3),(6.45,2.9),(6.7,3.3),(7.0,5.6),(7.1,4.5),(7.3,4.7),(7.5,5.7)]
I_TOT=[(.97,1.1),(1.05,2.5),(1.15,3.6),(1.3,3),(1.5,3.2),(1.7,3.3),(1.85,3.4),(2.0,2.2),(2.15,1.4),(2.25,2.5),(2.4,2.9),(2.55,4.5),(2.65,5.9),(2.85,5.9),(3.0,7),(3.2,7.6),(3.35,6.4),(3.5,5.6),(3.6,7.9),(3.85,8.8),(4.1,7.9),(4.35,8.1),(4.42,None),(4.5,9),(4.65,7.9),(4.77,6.8),(4.82,None),(4.87,7.2),(5.05,7.6),(5.3,7.2),(5.5,7),(5.65,9),(5.85,10.4),(5.95,8.4),(6.05,None),(6.15,7.9),(6.3,5),(6.45,5.3),(6.55,5.6),(6.6,None),(6.67,6.2),(6.85,7),(7.0,9.3),(7.15,9),(7.3,8.7),(7.5,7.9)]

GREEN, GREY, BLUE, ORANGE = "#008000", "#d3d3d3", "#0000ff", "#ff8c00"
OLIVE, NAVY, RED = "#bfbf00", "#00008b", "#ff4500"
TEAL, VIOLET, BROWN = "#00bfbf", "#ee82ee", "#a52a2a"
FONT = "DejaVu Sans"
dummy = pd.DataFrame({"a": [0]})
Y_VALUES = [i * 0.5 for i in range(16)]
MAJ_Y = "datum.value % 1 == 0"
GCOL, GCOL_L = "#808080", "#b8b8b8"


def cond(test, a, b):
    return {"condition": {"test": test, "value": a}, "value": b}


def y_axis(side, title_pad=6):
    if side is None:
        return alt.Axis(values=Y_VALUES, labels=False, ticks=False, domain=False, title=None, grid=True,
                        gridColor=cond(MAJ_Y, GCOL, GCOL_L), gridWidth=cond(MAJ_Y, 2.6, 2))
    return alt.Axis(orient=side, values=Y_VALUES, title="height in km", grid=True,
                    gridColor=cond(MAJ_Y, GCOL, GCOL_L), gridWidth=cond(MAJ_Y, 2.6, 2),
                    tickSize=cond(MAJ_Y, 10, 6), tickWidth=2.5, tickColor="black",
                    domain=False, labelExpr="datum.value % 1 == 0 ? datum.label : ''",
                    labelFontSize=28, titleFontSize=30, titleFontWeight="normal", labelFont=FONT, titleFont=FONT,
                    labelColor="black", titleColor="black", labelPadding=10, titlePadding=title_pad,
                    labelOverlap=False, labelFlush=False, format="d")


def x_axis(kind, title, title_pad):
    if kind == "flow":
        vals, test, lab = [3, 4, 5, 6, 7, 8, 9], "true", "datum.label"
    elif kind == "dev":
        vals = list(range(-45, 46, 5))
        test = "datum.value % 15 == 0"
        lab = "(datum.value % 15 == 0 && abs(datum.value) < 40) ? datum.label : ''"
    else:
        vals, test, lab = [-5, 0, 5, 10, 15, 20], "true", "datum.label"
    return alt.Axis(values=vals, title=title, grid=True,
                    gridColor=cond(test, GCOL, GCOL_L), gridWidth=cond(test, 2.6, 2),
                    tickSize=cond(test, 10, 0), tickWidth=2.5, tickColor="black", domain=False,
                    labelExpr=lab, labelFontSize=28, titleFontSize=30, titleFontWeight="normal",
                    labelFont=FONT, titleFont=FONT, labelColor="black", titleColor="black",
                    labelPadding=8, titlePadding=title_pad, labelOverlap=False, labelFlush=False,
                    labelSeparation=0, format="d")


def frame(pts):
    df = pd.DataFrame(pts, columns=["h", "x"])
    df["i"] = range(len(df))
    return df


def trail(pts, span):
    """Samples in drawing order, with a break wherever the reference shows separate dots."""
    out = []
    for k, (h, x) in enumerate(pts):
        if k and (abs(h - pts[k - 1][0]) < 0.02 or abs(x - pts[k - 1][1]) > span):
            out.append((h, None))
        out.append((h, x))
    return out


def panel(series, dom, kind, xtitle, tpad, side, ypad, tag, w, h):
    xs = alt.Scale(domain=dom, nice=False, zero=False)
    ys = alt.Scale(domain=[0, 7.5], nice=False, zero=False)
    xe = alt.X("x:Q", scale=xs, axis=x_axis(kind, xtitle, tpad))
    ye = alt.Y("h:Q", scale=ys, axis=y_axis(side, ypad))
    span = (dom[1] - dom[0]) * 0.12
    layers = []
    for pts, mark, color, size in series:
        if mark == "line":
            layers.append(alt.Chart(frame(pts)).mark_line(color=color, strokeWidth=size, strokeCap="round", strokeJoin="round",
                                                          interpolate="catmull-rom", clip=True).encode(x=xe, y=ye, order="i:Q"))
        else:
            k = 1.0 if mark == "triangle-up" else 1.128
            layers.append(alt.Chart(frame(trail(pts, span))).mark_line(color=color, strokeWidth=(size ** 0.5) * k, strokeCap="round",
                                                                       strokeJoin="round", clip=True).encode(x=xe, y=ye, order="i:Q"))
            layers.append(alt.Chart(frame(pts)).mark_point(filled=True, opacity=1, color=color, shape=mark, size=size,
                                                           clip=True).encode(x=xe, y=ye))
    layers.append(alt.Chart(dummy).mark_text(text=tag, font="Lato", fontSize=80, align="left",
                                             baseline="alphabetic", color="black").encode(x=alt.value(4), y=alt.value(67)))
    return alt.layer(*layers).properties(width=w, height=h, view=alt.ViewConfig(stroke="black", strokeWidth=3))


def spacer(w):
    return alt.Chart(dummy).mark_point(opacity=0).encode(x=alt.value(0), y=alt.value(0)).properties(
        width=w, height=10, view=alt.ViewConfig(stroke=None))


def flow(gps, p, t1, t2):
    return [(gps, "triangle-up", GREEN, 230), (p, "triangle-up", GREY, 230), (t1, "circle", BLUE, 150), (t2, "circle", ORANGE, 120)]


def devi(gps, t1, t2):
    return [(gps, "triangle-up", OLIVE, 230), (t1, "circle", NAVY, 130), (t2, "circle", RED, 130)]


def wind(u, v, tot):
    return [(u, "line", TEAL, 12), (v, "line", VIOLET, 12), (tot, "line", BROWN, 11)]


FLOW_T = "flow velocity in m s\u207b\u00b9"
DEV_T = "deviation in %"
WIND_T = "windspeed in m s\u207b\u00b9"
FD, DD, WD = [3, 9], [-45, 45], [-5, 20]


def row(off, hh, wa, ga, wb, gb, wc, pads, ypads, trip, tags):
    a = panel(flow(*trip[0]), FD, "flow", FLOW_T, pads[0], "left", ypads[0], tags[0], wa, hh)
    b = panel(devi(*trip[1]), DD, "dev", DEV_T, pads[1], None, 0, tags[1], wb, hh)
    c = panel(wind(*trip[2]), WD, "wind", WIND_T, pads[2], "right", ypads[1], tags[2], wc, hh)
    inner = alt.hconcat(b, c, spacing=gb)
    outer = alt.hconcat(a, inner, spacing=ga)
    return alt.hconcat(spacer(off), outer, spacing=-7)


OX, OY = 8, 8
LEG_BOXES = [(103, 15, 360, 294), (432, 74, 1002, 295), (1055, 108, 1285, 294)]
LEG_MARKS = [
    (161, 50, "triangle-up", GREEN, 440), (161, 111, "triangle-up", GREY, 360),
    (161, 181, "circle", BLUE, 283), (161, 249, "circle", ORANGE, 227),
    (490, 110, "triangle-up", OLIVE, 400), (490, 180, "circle", NAVY, 254), (490, 249, "circle", RED, 254),
    (1109, 140, "circle", TEAL, 227), (1109, 197, "M0,-1.5L1,0L0,1.5L-1,0Z", VIOLET, 256),
]
LEG_X = [(1109, 255, BROWN, 90)]
MAIN, SUB = 40, 28
LEG_IT = [
    (240, 65, "v", MAIN), (240, 126, "v", MAIN), (240, 194, "v", MAIN), (240, 263, "v", MAIN),
    (583, 126, "v", MAIN), (670, 126, "v", MAIN), (811, 126, "v", MAIN),
    (583, 195, "v", MAIN), (670, 195, "v", MAIN), (833, 195, "v", MAIN),
    (583, 263, "v", MAIN), (670, 263, "v", MAIN), (833, 263, "v", MAIN),
]
LEG_RM = [
    (262, 132, "p", SUB), (608, 132, "p", SUB), (835, 132, "p", SUB),
    (608, 201, "p", SUB), (859, 201, "p", SUB), (608, 269, "p", SUB), (859, 269, "p", SUB),
    (262, 71, "GPS", SUB), (262, 206, "TFS 1", SUB), (264, 177, "corr", SUB), (262, 274, "TFS 2", SUB), (264, 246, "corr", SUB),
    (568, 126, "(", MAIN), (647, 126, "-", MAIN), (693, 132, "GPS", SUB), (756, 126, ")", MAIN), (784, 126, "/", MAIN),
    (868, 126, "\u00b7", MAIN), (884, 126, "100", MAIN),
    (568, 195, "(", MAIN), (647, 195, "-", MAIN), (692, 205, "TFS 1", SUB), (696, 177, "corr", SUB), (777, 195, ")", MAIN),
    (804, 195, "/", MAIN), (890, 195, "\u00b7", MAIN), (907, 195, "100", MAIN),
    (568, 263, "(", MAIN), (647, 263, "-", MAIN), (692, 274, "TFS 2", SUB), (696, 246, "corr", SUB), (777, 263, ")", MAIN),
    (804, 263, "/", MAIN), (890, 263, "\u00b7", MAIN), (907, 263, "100", MAIN),
    (1181, 153, "u", MAIN), (1181, 212, "v", MAIN), (1181, 268, "total", MAIN),
]


def px(f):
    return alt.X(f, scale=None, axis=None)


def py(f):
    return alt.Y(f, scale=None, axis=None)


box_df = pd.DataFrame([(a - OX, b - OY, c - OX, d - OY) for a, b, c, d in LEG_BOXES], columns=["x", "y", "x2", "y2"])
boxes = alt.Chart(box_df).mark_rect(fill="white", stroke="#d2d2d2", strokeWidth=4.5, cornerRadius=8).encode(
    x=px("x:Q"), x2="x2:Q", y=py("y:Q"), y2="y2:Q")
mk_df = pd.DataFrame([(a - OX, b - OY, s, c, z) for a, b, s, c, z in LEG_MARKS], columns=["x", "y", "s", "c", "z"])
marks = alt.Chart(mk_df).mark_point(filled=True, opacity=1).encode(
    x=px("x:Q"), y=py("y:Q"), shape=alt.Shape("s:N", scale=None, legend=None),
    color=alt.Color("c:N", scale=None, legend=None), size=alt.Size("z:Q", scale=None, legend=None))
xm_df = pd.DataFrame([(a - OX, b - OY, c, z) for a, b, c, z in LEG_X], columns=["x", "y", "c", "z"])
xmark = alt.Chart(xm_df).mark_point(filled=True, opacity=1, shape="cross", angle=45).encode(
    x=px("x:Q"), y=py("y:Q"), color=alt.Color("c:N", scale=None, legend=None), size=alt.Size("z:Q", scale=None, legend=None))


def legend_text(rows, style):
    df = pd.DataFrame([(a - OX, b - OY, t, z) for a, b, t, z in rows], columns=["x", "y", "t", "z"])
    return alt.Chart(df).mark_text(align="left", baseline="alphabetic", font=FONT, fontStyle=style, color="black").encode(
        x=px("x:Q"), y=py("y:Q"), text="t:N", size=alt.Size("z:Q", scale=None, legend=None))


legend = alt.layer(boxes, marks, xmark, legend_text(LEG_IT, "italic"), legend_text(LEG_RM, "normal")).properties(
    width=1270, height=288, view=alt.ViewConfig(stroke=None))

row1 = row(8, 833, 460, 0, 459, -19, 229.5, (14, 13, 20), (20, 0),
           [(A_GPS, A_P, A_T1, A_T2), (B_GPS, B_T1, B_T2), (C_U, C_V, C_TOT)], ("(a)", "(b)", "(c)"))
row2 = row(4, 838, 463, -1, 463, -19, 230.6, (14, 11, 16), (21, 0),
           [(D_GPS, D_P, D_T1, D_T2), (E_GPS, E_T1, E_T2), (F_U, F_V, F_TOT)], ("(d)", "(e)", "(f)"))
row3 = row(1, 840, 463, -1, 464.5, -20, 231.6, (20, 13, 20), (22, 0),
           [(G_GPS, G_P, G_T1, G_T2), (H_GPS, H_T1, H_T2), (I_U, I_V, I_TOT)], ("(g)", "(h)", "(i)"))

stack3 = alt.vconcat(row2, row3, spacing=23)
stack2 = alt.vconcat(row1, stack3, spacing=19)
chart = alt.vconcat(legend, stack2, spacing=21).properties(
    padding={"left": 0, "top": 0, "right": 0, "bottom": 0})

chart.save("out.html", embed_options={"renderer": "svg", "actions": False})
